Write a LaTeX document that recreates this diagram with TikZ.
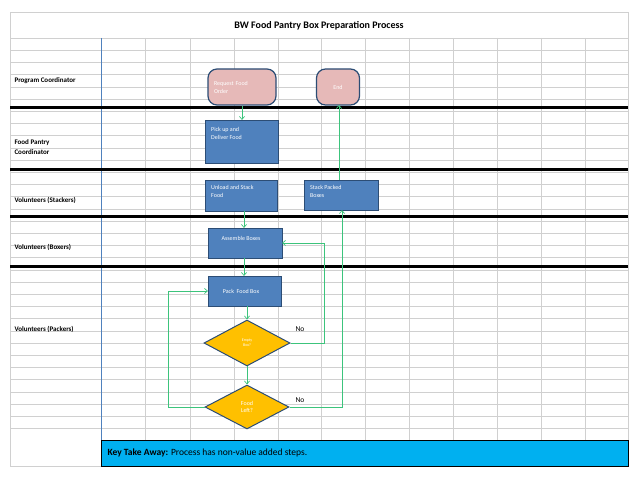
\documentclass[tikz,border=0pt]{standalone}
\usepackage{fontspec}
\setmainfont{Carlito}
\usetikzlibrary{arrows.meta,shapes.geometric}
\definecolor{boxblue}{HTML}{4F81BD}
\definecolor{edgeblue}{HTML}{2C4D75}
\definecolor{pinkf}{HTML}{E6B9B8}
\definecolor{gold}{HTML}{FFC000}
\definecolor{flow}{HTML}{3CC47C}
\definecolor{gridc}{HTML}{D0D0D0}
\definecolor{keyc}{HTML}{00B0F0}
\tikzset{
 proc/.style={draw=edgeblue,line width=1pt,fill=boxblue,text=white,font=\fontsize{6}{8}\selectfont,align=left,anchor=north west,inner sep=0pt},
 term/.style={draw=edgeblue,line width=1.2pt,fill=pinkf,text=white,rounded corners=9pt,font=\fontsize{6}{8}\selectfont,align=left},
 dec/.style={diamond,draw=edgeblue,line width=1pt,fill=gold,text=white,font=\fontsize{4}{5}\selectfont,align=center,inner sep=0pt},
 flw/.style={draw=flow,line width=0.7pt,-{Straight Barb[length=3pt,width=5pt]}},
 lane/.style={font=\bfseries\fontsize{7}{10}\selectfont,anchor=west,align=left},
 thick lane/.style={line width=3pt,black}
}
\begin{document}
\begin{tikzpicture}[x=1pt,y=-1pt]
\useasboundingbox (0,0) rectangle (638,478);
\fill[white] (0,0) rectangle (638,478);
% grid
\foreach \y in {38,50.2,...,440} \draw[gridc,line width=0.4pt] (10,\y) -- (628,\y);
\foreach \x in {145,190,234,278,321,365,409,453,497,541,585} \draw[gridc,line width=0.4pt] (\x,38) -- (\x,440);
\draw[gridc,line width=0.4pt] (10,12) rectangle (628,466);
\draw[boxblue,line width=0.8pt] (101,38) -- (101,440);
% lanes
\foreach \y in {108,170,217,267} \draw[thick lane] (10,\y) -- (628,\y);
\node[font=\bfseries\fontsize{10}{12}\selectfont] (title) at (319,26) {BW Food Pantry Box Preparation Process};
\node[lane] (l1) at (11,81) {Program Coordinator};
\node[lane] (l2) at (11,147) {Food Pantry\\Coordinator};
\node[lane] (l3) at (11,200) {Volunteers (Stackers)};
\node[lane] (l4) at (11,247) {Volunteers (Boxers)};
\node[lane] (l5) at (11,329) {Volunteers (Packers)};
% nodes
\node[term,minimum width=68pt,minimum height=36pt,text width=56pt] (req) at (242,87) {Request Food\\Order};
\node[term,minimum width=43pt,minimum height=36pt,align=center] (end) at (338,87) {End};
\node[proc,minimum width=73pt,minimum height=43pt] (pick) at (205,120) {};
\node[anchor=north west,font=\fontsize{6}{8}\selectfont,text=white,align=left,inner sep=0pt] at (211,127) {Pick up and\\Deliver Food};
\node[proc,minimum width=72pt,minimum height=31pt] (unl) at (205,180) {};
\node[anchor=north west,font=\fontsize{6}{8}\selectfont,text=white,align=left,inner sep=0pt] at (211,185) {Unload and Stack\\Food};
\node[proc,minimum width=74pt,minimum height=30pt] (stk) at (304,180) {};
\node[anchor=north west,font=\fontsize{6}{8}\selectfont,text=white,align=left,inner sep=0pt] at (310,185) {Stack Packed\\Boxes};
\node[proc,minimum width=74pt,minimum height=30pt] (asm) at (208,228) {};
\node[font=\fontsize{6}{8}\selectfont,text=white,inner sep=0pt] at (241,238) {Assemble Boxes};
\node[proc,minimum width=73pt,minimum height=30pt] (pack) at (208,276) {};
\node[font=\fontsize{6}{8}\selectfont,text=white,inner sep=0pt] at (241,291) {Pack\ \ Food Box};
\node[dec,minimum width=86pt,minimum height=46pt] (emp) at (247,343) {Empty\\Box?};
\node[dec,minimum width=84pt,minimum height=44pt,font=\fontsize{6}{7}\selectfont] (fl) at (247,407) {Food\\Left?};
\node[font=\fontsize{7.5}{9}\selectfont] (no1) at (300,329) {No};
\node[font=\fontsize{7.5}{9}\selectfont] (no2) at (300,400) {No};
% connectors
\draw[flw] (req.south) -- (req.south |- pick.north);
\draw[flw] (244,211) -- (244,228);
\draw[flw] (244,258) -- (244,276);
\draw[flw] (247,306) -- (emp.north);
\draw[flw] (emp.south) -- (fl.north);
\draw[flw] (emp.east) -- (324,343) -- (324,243) -- (282,243);
\draw[flw] (fl.east) -- (342,407) -- (342,210);
\draw[flw] (339,180) -- (339,105);
\draw[flw] (fl.west) -- (168,407) -- (168,291) -- (208,291);
% key
\draw[black,line width=0.6pt,fill=keyc] (101,440) rectangle (628,466);
\node[anchor=west,font=\fontsize{9.5}{11}\selectfont] (key) at (104,453) {\textbf{Key Take Away:} Process has non-value added steps.};
\end{tikzpicture}
\end{document}
